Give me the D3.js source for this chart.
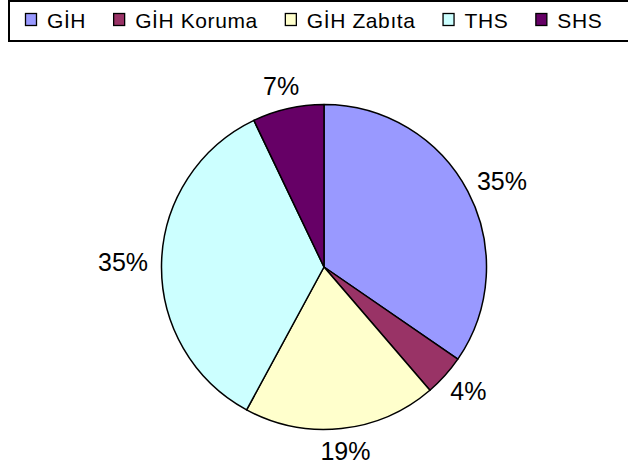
<!DOCTYPE html>
<html>
<head>
<meta charset="utf-8">
<script src="https://cdn.jsdelivr.net/npm/d3@7"></script>
<style>
  html, body { margin: 0; padding: 0; background: #fff; }
  svg { display: block; font-family: "Liberation Sans", Arial, sans-serif; }
</style>
</head>
<body>
<div id="chart"></div>
<script>
// Pie of units share, Excel-style layout (legend boxed across the top).
const categories = ["GİH", "GİH Koruma", "GİH Zabıta", "THS", "SHS"];
const shares = [34.6, 4.1, 19.2, 35.0, 7.1];
const colors = ["#9999FF", "#993366", "#FFFFCC", "#CCFFFF", "#660066"];

const width = 628, height = 470;
const cx = 324, cy = 267, radius = 162.5;
const labelRadius = 176; // label box sits just outside this circle

const svg = d3.select("#chart").append("svg")
  .attr("width", width).attr("height", height);

// Legend frame (runs off the right edge like the original)
svg.append("rect")
  .attr("x", 9).attr("y", 1)
  .attr("width", width + 10).attr("height", 40)
  .attr("fill", "#fff").attr("stroke", "#000").attr("stroke-width", 2);

const legend = svg.append("g");
let lx = 25;
categories.forEach((name, i) => {
  const g = legend.append("g").attr("transform", `translate(${lx},0)`);
  g.append("rect")
    .attr("x", 0.5).attr("y", 13.5).attr("width", 11).attr("height", 12)
    .attr("fill", colors[i]).attr("stroke", "#000").attr("stroke-width", 1.3);
  const t = g.append("text")
    .attr("x", 22).attr("y", 28)
    .attr("font-size", 21).attr("letter-spacing", "0.6px")
    .attr("fill", "#000")
    .text(name);
  lx += 22 + t.node().getComputedTextLength() + 27;
});

// Pie
const pie = d3.pie().sort(null).value(d => d)
  .startAngle(0).endAngle(2 * Math.PI);
const arcs = pie(shares);
const arc = d3.arc().innerRadius(0).outerRadius(radius);

const g = svg.append("g").attr("transform", `translate(${cx},${cy})`);
g.selectAll("path")
  .data(arcs)
  .join("path")
  .attr("d", arc)
  .attr("fill", (d, i) => colors[i])
  .attr("stroke", "#000")
  .attr("stroke-width", 1.5)
  .attr("stroke-linejoin", "round");

// Labels: push the text box outward so its inner edge touches labelRadius
const total = d3.sum(shares);
const labelH = 19;
g.selectAll("text")
  .data(arcs)
  .join("text")
  .attr("text-anchor", "middle")
  .attr("dy", "0.36em")
  .attr("font-size", 25)
  .attr("fill", "#000")
  .text(d => `${Math.round(d.value / total * 100)}%`)
  .each(function (d) {
    const a = (d.startAngle + d.endAngle) / 2;
    const w = this.getComputedTextLength();
    const x = Math.sin(a) * labelRadius + Math.sin(a) * w / 2;
    const y = -Math.cos(a) * labelRadius - Math.cos(a) * labelH / 2;
    d3.select(this).attr("x", x).attr("y", y);
  });
</script>
</body>
</html>
